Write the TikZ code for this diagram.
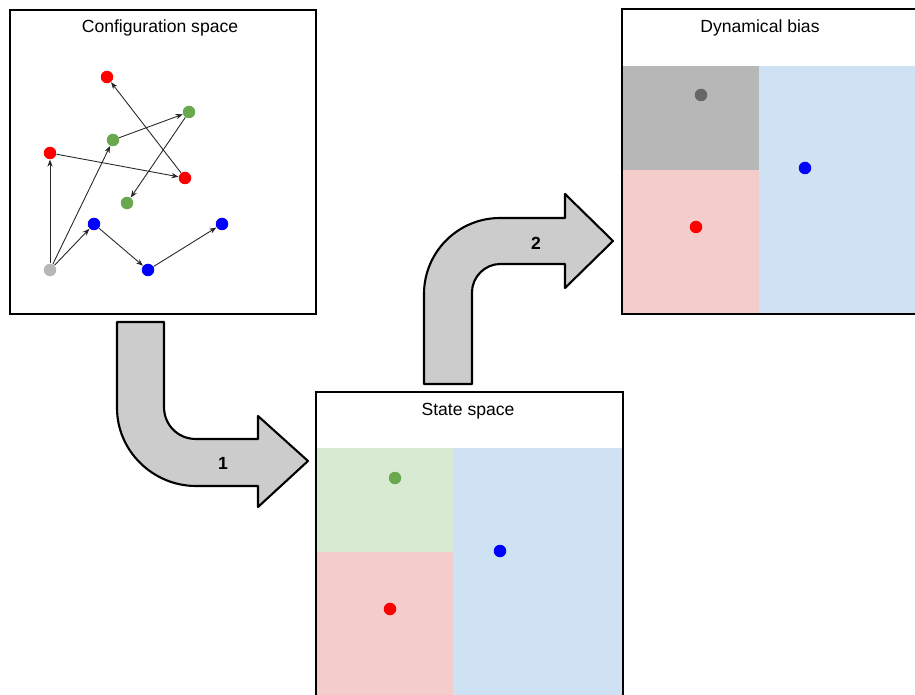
\documentclass[tikz,border=0pt]{standalone}
\usepackage{fontspec}
\setmainfont{Liberation Sans}
\usetikzlibrary{arrows.meta}

\definecolor{dotred}{HTML}{FF0000}
\definecolor{dotgreen}{HTML}{6AA84F}
\definecolor{dotblue}{HTML}{0000FF}
\definecolor{dotgrey}{HTML}{B7B7B7}
\definecolor{dotdark}{HTML}{666666}
\definecolor{regred}{HTML}{F4CCCC}
\definecolor{reggreen}{HTML}{D9EAD3}
\definecolor{regblue}{HTML}{CFE2F3}
\definecolor{reggrey}{HTML}{B7B7B7}
\definecolor{bendfill}{HTML}{CCCCCC}

\begin{document}
\begin{tikzpicture}[x=0.02cm, y=-0.02cm, >={Stealth[length=4pt,width=3pt]},
            panel/.style = {draw, line width=1.6pt},
            title/.style = {font=\fontsize{10}{12}\selectfont, inner sep=0pt},
            dot/.style = {circle, fill=#1, minimum size=0.25cm, inner sep=0pt},
            link/.style = {->, draw=black!85, line width=0.5pt},
            bentarrow/.style = {draw, fill=bendfill, line width=1.2pt, line join=round},
            steplabel/.style = {font=\bfseries\fontsize{10}{12}\selectfont, inner sep=0pt},
        ]
        \useasboundingbox (0,0) rectangle (915,695);

        % configuration space
        \draw[panel] (10,10) rectangle (316,314);
        \node[title] (cfg) at (160,28) {Configuration space};

        \node[dot=dotred]   (r1) at (107,77)  {};
        \node[dot=dotgreen] (g1) at (189,112) {};
        \node[dot=dotgreen] (g2) at (113,140) {};
        \node[dot=dotred]   (r2) at (50,153)  {};
        \node[dot=dotred]   (r3) at (185,178) {};
        \node[dot=dotgreen] (g3) at (127,203) {};
        \node[dot=dotblue]  (b1) at (94,224)  {};
        \node[dot=dotblue]  (b2) at (222,224) {};
        \node[dot=dotgrey]  (s0) at (50,270)  {};
        \node[dot=dotblue]  (b3) at (148,270) {};

        \foreach \a/\b in {s0/r2, s0/g2, s0/b1, b1/b3, b3/b2, r2/r3, r3/r1, g2/g1, g1/g3}
            {
                \draw[link] (\a) -- (\b);
            }

        % state space
        \fill[reggreen] (316,448) rectangle (453,552);
        \fill[regred]   (316,552) rectangle (453,700);
        \fill[regblue]  (453,448) rectangle (623,700);
        \draw[panel] (316,392) rectangle (623,720);
        \node[title] (state) at (468,411) {State space};
        \node[dot=dotgreen] (sg) at (395,478) {};
        \node[dot=dotblue]  (sb) at (500,551) {};
        \node[dot=dotred]   (sr) at (390,609) {};

        % dynamical bias
        \fill[reggrey] (622,66)  rectangle (759,170);
        \fill[regred]  (622,170) rectangle (759,313);
        \fill[regblue] (759,66)  rectangle (930,313);
        \draw[panel] (622,9) rectangle (940,314);
        \node[title] (bias) at (760,28) {Dynamical bias};
        \node[dot=dotdark] (dg) at (701,95)  {};
        \node[dot=dotblue] (db) at (805,168) {};
        \node[dot=dotred]  (dr) at (696,227) {};

        % bent arrows
        \draw[bentarrow] (117,322) -- (164,322) -- (164,407)
            .. controls (164,425) and (178,439) .. (196,439) -- (258,439) -- (258,416)
            -- (308,461) -- (258,507) -- (258,486) -- (196,486)
            .. controls (153,486) and (117,451) .. (117,408) -- cycle;
        \node[steplabel] (one) at (223,463) {1};

        \draw[bentarrow] (424,384) -- (472,384) -- (472,292)
            .. controls (472,277) and (485,264) .. (500,264) -- (565,264) -- (565,288)
            -- (613,241) -- (565,194) -- (565,218) -- (500,218)
            .. controls (458,218) and (424,252) .. (424,294) -- cycle;
        \node[steplabel] (two) at (536,243) {2};
    \end{tikzpicture}
\end{document}
